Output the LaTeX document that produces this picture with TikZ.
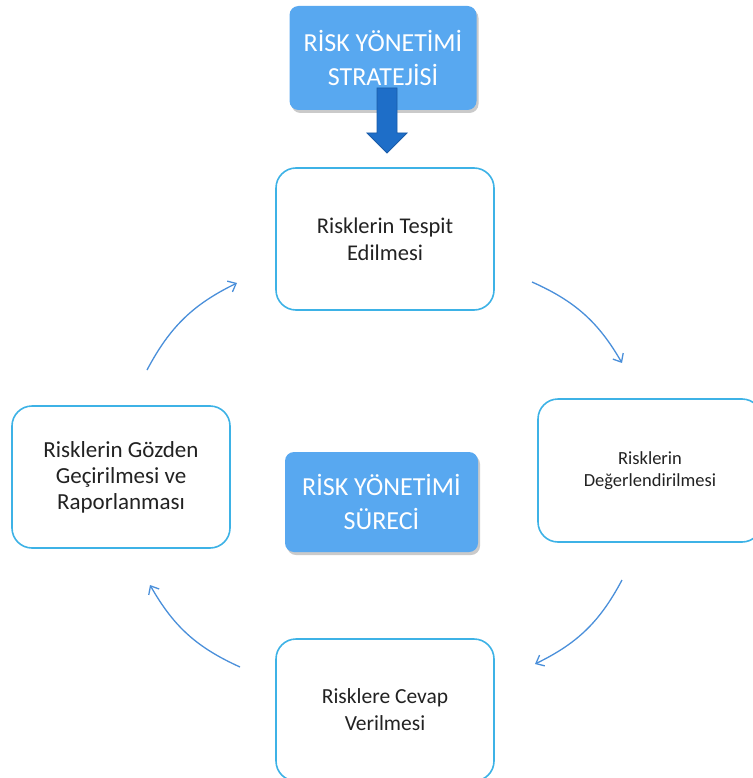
\documentclass[tikz,border=0pt]{standalone}
\usepackage{fontspec}
\setmainfont{Carlito}
\usetikzlibrary{arrows.meta,shadows}
\definecolor{bluefill}{HTML}{58A8F0}
\definecolor{boxline}{HTML}{3DB2E6}
\definecolor{arrowblue}{HTML}{1E6EC8}
\definecolor{arrowedge}{HTML}{1A5CA8}
\definecolor{curveblue}{HTML}{4A8FDA}
\definecolor{txt}{HTML}{222222}
\tikzset{
  bluebox/.style={draw=none, fill=bluefill, rounded corners=9pt, text=white, align=center,
    font={\fontsize{26}{34}\selectfont},
    drop shadow={shadow xshift=2pt, shadow yshift=-3pt, opacity=0.35, fill=black!60}},
  stagebox/.style={draw=boxline, line width=1.6pt, fill=white, rounded corners=20pt, text=txt, align=center},
  cyc/.style={draw=curveblue, line width=1.3pt, -{Straight Barb[length=7pt,width=12pt,line width=1.3pt]}}
}
\begin{document}
\begin{tikzpicture}[x=1pt,y=-1pt]
\useasboundingbox (0,0) rectangle (752,778);
% strategy box
\node[bluebox, minimum width=187pt, minimum height=104pt] (strat) at (383,58)
  {RİSK YÖNETİMİ\\ STRATEJİSİ};
% block arrow
\draw[fill=arrowblue, draw=arrowedge, line width=0.8pt]
  (377,88) -- (397,88) -- (397,133) -- (407,133) -- (387,153) -- (367,133) -- (377,133) -- cycle;
% stage boxes
\node[stagebox, minimum width=218pt, minimum height=142pt, font={\fontsize{22.5}{27}\selectfont}] (s1) at (385,239)
  {Risklerin Tespit\\ Edilmesi};
\node[stagebox, minimum width=224pt, minimum height=143pt, font={\fontsize{18.5}{22}\selectfont}] (s2) at (650,470.5)
  {Risklerin\\ Değerlendirilmesi};
\node[stagebox, minimum width=218pt, minimum height=142pt, font={\fontsize{21.5}{27}\selectfont}] (s3) at (385,710)
  {Risklere Cevap\\ Verilmesi};
\node[stagebox, minimum width=218pt, minimum height=142pt, font={\fontsize{23}{26}\selectfont}] (s4) at (121,477)
  {Risklerin Gözden\\ Geçirilmesi ve\\ Raporlanması};
% process box
\node[bluebox, minimum width=193pt, minimum height=100pt] (proc) at (381.5,502)
  {RİSK YÖNETİMİ\\ SÜRECİ};
% cycle arrows
\coordinate (a1s) at (532,282); \coordinate (a1e) at (622,363);
\coordinate (a2s) at (622,580); \coordinate (a2e) at (535,664);
\coordinate (a3s) at (240,667); \coordinate (a3e) at (150,585);
\coordinate (a4s) at (147,370); \coordinate (a4e) at (237,283);
\draw[cyc] (a1s) to[bend left=18] (a1e);
\draw[cyc] (a2s) to[bend left=18] (a2e);
\draw[cyc] (a3s) to[bend left=18] (a3e);
\draw[cyc] (a4s) to[bend left=18] (a4e);
\end{tikzpicture}
\end{document}
